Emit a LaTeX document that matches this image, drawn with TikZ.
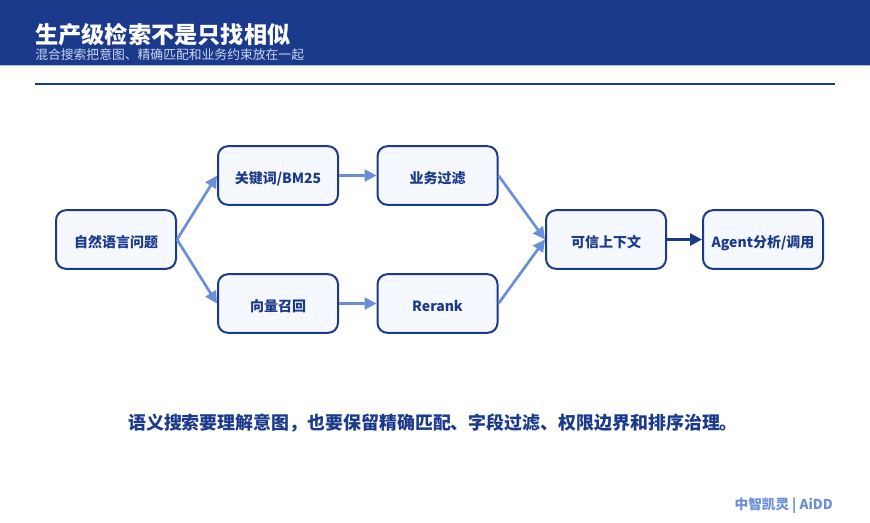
\documentclass[tikz,border=0pt]{standalone}
\usepackage{fontspec}
\setmainfont{Noto Sans CJK SC}
\usetikzlibrary{arrows.meta}

\definecolor{navy}{HTML}{1B3A8C}
\definecolor{softblue}{HTML}{6B8FD6}
\definecolor{boxfill}{HTML}{F5F8FF}
\definecolor{subtext}{HTML}{C9D4EE}

\begin{document}
\begin{tikzpicture}[x=0.75pt, y=-0.75pt, >={Triangle[length=9pt, width=9pt]},
    box/.style={draw=navy, line width=1.5pt, fill=boxfill, rounded corners=7.5pt,
        minimum width=90pt, minimum height=44pt, inner sep=2pt,
        text height=11.5pt, text depth=0pt,
        text=navy, font=\bfseries\fontsize{10.5}{12}\selectfont},
    flow/.style={->, draw=softblue, fill=softblue, line width=2pt},
    mainflow/.style={->, draw=navy, fill=navy, line width=2pt}]

    \useasboundingbox (0,0) rectangle (870,522);

    % Kopfband
    \fill[navy] (0,0) rectangle (870,65);
    \fill[softblue!60] (0,65) rectangle (870,66.2);
    \node[anchor=west, inner sep=0pt, text=white, font=\bfseries\fontsize{17.4}{20}\selectfont]
        (title) at (35,34.5) {生产级检索不是只找相似};
    \node[anchor=west, inner sep=0pt, text=subtext, font=\fontsize{9.6}{12}\selectfont]
        (subtitle) at (35,55) {混合搜索把意图、精确匹配和业务约束放在一起};
    \draw[navy, line width=1.2pt] (35,84) -- (835,84);

    % Simpul
    \node[box] (query) at (116,239.5) {自然语言问题};
    \node[box] (keyword) at (278,175.5) {关键词/BM25};
    \node[box] (filter) at (437.5,175.5) {业务过滤};
    \node[box] (vector) at (278,303.5) {向量召回};
    \node[box] (rerank) at (437.5,303.5) {Rerank};
    \node[box] (context) at (606,239.5) {可信上下文};
    \node[box] (agent) at (763,239.5) {Agent分析/调用};

    % Sisi
    \draw[flow] (query.east) -- (keyword.west);
    \draw[flow] (query.east) -- (vector.west);
    \draw[flow] (keyword) -- (filter);
    \draw[flow] (vector) -- (rerank);
    \draw[flow] (filter.east) -- (context.west);
    \draw[flow] (rerank.east) -- (context.west);
    \draw[mainflow] (context) -- (agent);

    \node[text=navy, font=\bfseries\fontsize{13.45}{16}\selectfont] (summary) at (433,423)
        {语义搜索要理解意图，也要保留精确匹配、字段过滤、权限边界和排序治理。};
    \node[anchor=east, inner sep=0pt, text=softblue, font=\bfseries\fontsize{10.2}{12}\selectfont]
        (brand) at (833,506) {中智凯灵 | AiDD};

\end{tikzpicture}
\end{document}
